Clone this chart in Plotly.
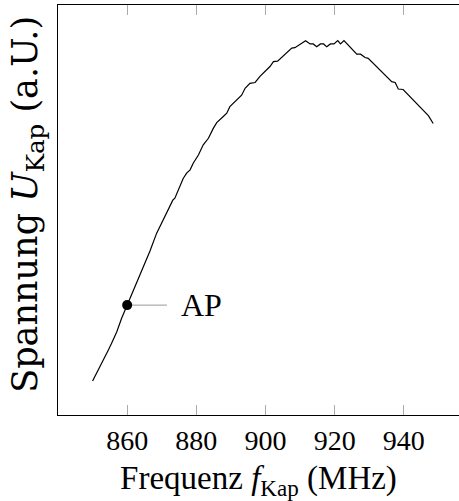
import plotly.graph_objects as go

# Frequency (MHz) and capacitor voltage (arbitrary units)
freq = [850.0, 851.7, 853.1, 854.6, 855.5, 857.0, 858.4, 860.0, 861.3, 862.3,
        863.7, 865.2, 866.6, 868.5, 870.0, 871.4, 872.4, 873.2, 873.8, 874.8,
        876.2, 877.2, 878.2, 879.1, 880.6, 882.0, 883.5, 884.9, 885.9, 887.8,
        888.8, 889.7, 890.7, 892.1, 893.1, 894.1, 895.5, 897.0, 898.4, 901.3,
        902.3, 903.5, 907.6, 908.5, 910.0, 911.6, 912.9, 913.8, 914.8, 915.9,
        916.8, 917.7, 918.8, 919.8, 920.9, 921.7, 922.7, 924.4, 926.4, 927.5,
        928.8, 929.7, 936.5, 937.5, 938.4, 939.8, 947.1, 948.5]
voltage = [0.083, 0.110, 0.134, 0.159, 0.175, 0.203, 0.236, 0.268, 0.297, 0.317,
           0.346, 0.374, 0.400, 0.443, 0.468, 0.492, 0.512, 0.524, 0.529, 0.549,
           0.577, 0.590, 0.598, 0.614, 0.634, 0.659, 0.675, 0.699, 0.713, 0.728,
           0.736, 0.752, 0.760, 0.770, 0.780, 0.797, 0.809, 0.811, 0.826, 0.850,
           0.862, 0.863, 0.895, 0.896, 0.905, 0.913, 0.905, 0.905, 0.898, 0.905,
           0.905, 0.898, 0.905, 0.905, 0.913, 0.905, 0.913, 0.897, 0.880, 0.880,
           0.872, 0.870, 0.813, 0.811, 0.795, 0.794, 0.730, 0.711]

ap_freq = [860.0]
ap_voltage = [0.268]
ap_label = "AP"
ap_line_end = 871.5
ap_text_x = 875.0

x_ticks = [860, 880, 900, 920, 940]

x_title = "Frequenz <i>f</i><sub>Kap</sub> (MHz)"
y_title = "Spannung <i>U</i><sub>Kap</sub> (a.U.)"

FONT = "'Liberation Serif', 'DejaVu Serif', 'Times New Roman', serif"
WIDE = "'DejaVu Serif', 'Liberation Serif', serif"

fig = go.Figure()
fig.add_trace(go.Scatter(x=freq, y=voltage, mode="lines",
                         line=dict(color="black", width=1.2), hoverinfo="skip"))
fig.add_trace(go.Scatter(x=[ap_freq[0], ap_line_end], y=[ap_voltage[0], ap_voltage[0]],
                         mode="lines", line=dict(color="#999999", width=1), hoverinfo="skip"))
fig.add_trace(go.Scatter(x=ap_freq, y=ap_voltage, mode="markers",
                         marker=dict(color="black", size=10), hoverinfo="skip"))
fig.add_annotation(x=ap_text_x, y=ap_voltage[0], text=ap_label, showarrow=False,
                   xanchor="left", yanchor="middle",
                   font=dict(family=FONT, size=32, color="black"))
# y-axis title as a rotated annotation
fig.add_annotation(x=-0.075, y=0.515, xref="paper", yref="paper", text=y_title,
                   showarrow=False, textangle=-90, xanchor="center", yanchor="middle",
                   font=dict(family=WIDE, size=35, color="black"))

fig.update_layout(
    width=459, height=501,
    margin=dict(l=58, r=0, t=5, b=86),
    paper_bgcolor="white", plot_bgcolor="white",
    showlegend=False,
    font=dict(family=FONT, size=28, color="black"),
    xaxis=dict(range=[840, 955.96], tickvals=x_ticks, ticktext=[str(t) for t in x_ticks],
               ticks="inside", ticklen=10, tickcolor="#aaaaaa", tickwidth=1,
               showline=True, linecolor="black", linewidth=1, mirror="ticks",
               showgrid=False, zeroline=False,
               tickfont=dict(family=FONT, size=28),
               title=dict(text=x_title, font=dict(family=FONT, size=33), standoff=18)),
    yaxis=dict(range=[0, 1], showticklabels=False, ticks="",
               showline=True, linecolor="black", linewidth=1, mirror=False,
               showgrid=False, zeroline=False),
)

fig.write_html("out.html", config={"displayModeBar": False},
               post_script="document.body.style.margin='0px';")
